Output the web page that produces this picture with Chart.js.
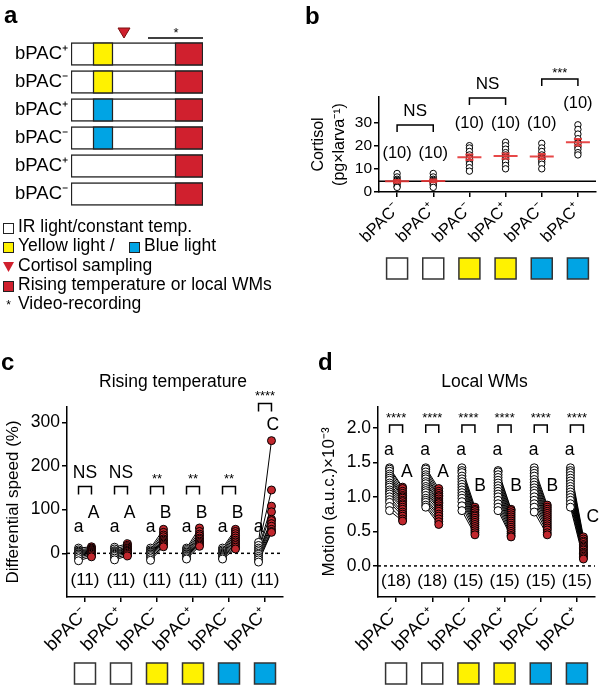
<!DOCTYPE html>
<html>
<head>
<meta charset="utf-8">
<script src="https://cdn.jsdelivr.net/npm/chart.js@4.4.1/dist/chart.umd.min.js"></script>
<style>
  body { margin: 0; background: #fff; width: 601px; height: 685px; position: relative; overflow: hidden; }
  canvas { position: absolute; }
</style>
</head>
<body>
<canvas id="chartA" width="300" height="320" style="left:0;top:0"></canvas>
<canvas id="chartB" width="301" height="300" style="left:300px;top:0"></canvas>
<canvas id="chartC" width="300" height="385" style="left:0;top:300px"></canvas>
<canvas id="chartD" width="301" height="385" style="left:300px;top:300px"></canvas>
<script>
const FONT = '"Liberation Sans", Arial, Helvetica, sans-serif';
const lightColor = { none: '#ffffff', yellow: '#fff200', blue: '#00a4e4' };
const STIM_RED = '#d0202e';
const DOT_RED = '#c1272d';
const MEAN_RED = 'rgba(228, 52, 52, 0.9)';

// ---- panel a: protocol ----
const protocolRows = ['bPAC⁺', 'bPAC⁻', 'bPAC⁺', 'bPAC⁻', 'bPAC⁺', 'bPAC⁻'];
const protocolLight = ['yellow', 'yellow', 'blue', 'blue', 'none', 'none'];
const protocolEnd = 6.6;
const lightWindow = [1.1, 2.1];
const stimWindow = [5.2, 6.6];
const samplingTime = 2.65;
const videoWindow = [3.85, 6.6];

// ---- groups shared by b, c, d ----
const groupLabels = ['bPAC⁻', 'bPAC⁺', 'bPAC⁻', 'bPAC⁺', 'bPAC⁻', 'bPAC⁺'];
const groupLight = ['none', 'none', 'yellow', 'yellow', 'blue', 'blue'];

// ---- panel b: cortisol (pg x larva^-1) ----
const cortisol = [
  [8, 6.5, 5.5, 5, 4.5, 4, 4, 3.5, 2.5, 2],
  [8, 6.5, 5.5, 5, 4.5, 4.5, 4, 3.5, 3, 2],
  [20, 19, 17.5, 16, 15, 14.5, 13, 12, 10.5, 9],
  [21.5, 20, 18.5, 17, 16, 15, 14, 13, 11.5, 10],
  [21, 19, 17.5, 16, 15, 14.5, 14, 13, 12, 10],
  [29, 27, 25, 23, 21.5, 21, 19.5, 18.5, 17, 16]
];
const cortisolMean = [4.6, 4.8, 15.0, 15.5, 15.3, 21.5];
const cortisolSem = [0.6, 0.6, 1.2, 1.1, 1.1, 1.4];
const cortisolN = [10, 10, 10, 10, 10, 10];
const cortisolStats = ['NS', 'NS', '***'];

// ---- panel c: differential speed (%) ----
const speedBefore = [
  [12, 8, 5, 3, 1, -1, -3, -5, -8, -12, -17],
  [14, 10, 6, 4, 2, 0, -2, -4, -7, -11, -15],
  [12, 8, 5, 3, 1, -1, -3, -5, -8, -12, -16],
  [12, 9, 6, 3, 1, -1, -3, -5, -7, -10, -13],
  [12, 8, 5, 2, 0, -2, -4, -6, -8, -10, -13],
  [25, 18, 12, 8, 4, 0, -3, -7, -11, -15, -20]
];
const speedAfter = [
  [15, 12, 10, 8, 6, 4, 2, 0, -2, -5, -8],
  [22, 18, 15, 12, 10, 7, 5, 3, 0, -3, -6],
  [55, 48, 42, 38, 33, 30, 27, 24, 21, 18, 15],
  [58, 50, 44, 40, 35, 32, 28, 25, 22, 19, 16],
  [55, 50, 45, 40, 35, 30, 26, 22, 18, 14, 10],
  [258, 145, 108, 95, 78, 75, 68, 62, 55, 50, 48]
];
const speedN = [11, 11, 11, 11, 11, 11];
const speedStats = ['NS', 'NS', '**', '**', '**', '****'];
const speedLetters = ['A', 'A', 'B', 'B', 'B', 'C'];

// ---- panel d: motion (a.u.c. x 10^-3) ----
const motionBefore = [
  [1.42, 1.4, 1.37, 1.33, 1.3, 1.27, 1.24, 1.2, 1.17, 1.14, 1.1, 1.07, 1.04, 1.0, 0.96, 0.92, 0.86, 0.8],
  [1.42, 1.4, 1.36, 1.32, 1.29, 1.26, 1.22, 1.19, 1.15, 1.12, 1.09, 1.06, 1.02, 0.98, 0.95, 0.92, 0.88, 0.85],
  [1.42, 1.38, 1.35, 1.3, 1.26, 1.22, 1.18, 1.14, 1.1, 1.06, 1.02, 0.98, 0.93, 0.87, 0.8],
  [1.38, 1.36, 1.32, 1.28, 1.24, 1.2, 1.16, 1.12, 1.08, 1.04, 1.0, 0.95, 0.9, 0.85, 0.8],
  [1.42, 1.38, 1.34, 1.3, 1.25, 1.21, 1.17, 1.13, 1.09, 1.05, 1.0, 0.95, 0.9, 0.85, 0.78],
  [1.42, 1.38, 1.35, 1.31, 1.27, 1.23, 1.19, 1.15, 1.11, 1.07, 1.03, 0.99, 0.95, 0.9, 0.85]
];
const motionAfter = [
  [1.14, 1.12, 1.08, 1.05, 1.02, 1.0, 0.98, 0.95, 0.93, 0.9, 0.88, 0.85, 0.82, 0.78, 0.75, 0.72, 0.68, 0.65],
  [1.12, 1.08, 1.05, 1.02, 1.0, 0.97, 0.94, 0.92, 0.9, 0.87, 0.84, 0.82, 0.79, 0.75, 0.72, 0.68, 0.64, 0.6],
  [0.85, 0.82, 0.8, 0.77, 0.74, 0.72, 0.69, 0.66, 0.63, 0.6, 0.57, 0.54, 0.51, 0.48, 0.45],
  [0.82, 0.8, 0.77, 0.74, 0.71, 0.68, 0.65, 0.62, 0.59, 0.56, 0.53, 0.5, 0.47, 0.44, 0.42],
  [0.88, 0.85, 0.82, 0.79, 0.76, 0.73, 0.7, 0.67, 0.64, 0.61, 0.58, 0.55, 0.52, 0.48, 0.45],
  [0.42, 0.39, 0.36, 0.34, 0.31, 0.29, 0.27, 0.25, 0.23, 0.2, 0.18, 0.16, 0.14, 0.12, 0.1]
];
const motionN = [18, 18, 15, 15, 15, 15];
const motionStats = ['****', '****', '****', '****', '****', '****'];
const motionLetters = ['A', 'A', 'B', 'B', 'B', 'C'];

Chart.defaults.color = '#000';
Chart.defaults.font.family = FONT;

// ---------- drawing helpers ----------
function text(ctx, str, x, y, size, opts = {}) {
  ctx.save();
  ctx.font = (opts.bold ? 'bold ' : '') + size + 'px ' + FONT;
  ctx.fillStyle = opts.color || '#000';
  ctx.textAlign = opts.align || 'center';
  ctx.textBaseline = opts.baseline || 'middle';
  ctx.fillText(str, x, y);
  ctx.restore();
}

function bracket(ctx, x1, x2, yTop, yLeg) {
  ctx.save();
  ctx.strokeStyle = '#000';
  ctx.lineWidth = 1.5;
  ctx.beginPath();
  ctx.moveTo(x1, yLeg);
  ctx.lineTo(x1, yTop);
  ctx.lineTo(x2, yTop);
  ctx.lineTo(x2, yLeg);
  ctx.stroke();
  ctx.restore();
}

function swatches(ctx, xScale, top, size) {
  ctx.save();
  groupLight.forEach((l, i) => {
    const cx = xScale.getPixelForValue(i);
    ctx.fillStyle = lightColor[l];
    ctx.fillRect(cx - size / 2, top, size, size);
    ctx.strokeStyle = '#333';
    ctx.lineWidth = 1.5;
    ctx.strokeRect(cx - size / 2, top, size, size);
  });
  ctx.restore();
}

function groupAxis(fontSize, height) {
  return {
    type: 'linear',
    min: -0.5,
    max: 5.5,
    afterBuildTicks: s => { s.ticks = groupLabels.map((_, i) => ({ value: i })); },
    afterFit: s => { s.height = height; },
    ticks: {
      callback: v => groupLabels[v],
      minRotation: 45, maxRotation: 45, autoSkip: false,
      font: { size: fontSize }, padding: 2
    },
    grid: { display: true, drawOnChartArea: false, drawTicks: true, tickLength: 5, color: '#000', lineWidth: 1.5 },
    border: { display: true, color: '#000', width: 1.5 }
  };
}

function valueAxis(min, max, tickValues, width, fmt, fontSize, title, titleSize, titlePad) {
  return {
    type: 'linear',
    min: min,
    max: max,
    afterBuildTicks: s => { s.ticks = tickValues.map(v => ({ value: v })); },
    afterFit: s => { s.width = width; },
    ticks: { callback: fmt, font: { size: fontSize }, padding: 2 },
    grid: { display: true, drawOnChartArea: false, drawTicks: true, tickLength: 5, color: '#000', lineWidth: 1.5 },
    border: { display: true, color: '#000', width: 1.5 },
    title: { display: true, text: title, font: { size: titleSize, lineHeight: 1.3 }, padding: { top: titlePad, bottom: 0 } }
  };
}

const baseOptions = {
  responsive: false,
  animation: false,
  devicePixelRatio: 1,
  plugins: { legend: { display: false }, tooltip: { enabled: false } }
};

// ---------- panel a ----------
const protocolPlugin = {
  id: 'protocolNotes',
  afterDraw(chart) {
    const { ctx, scales: { x } } = chart;
    text(ctx, 'a', 4, 16, 24, { bold: true, align: 'left' });
    // cortisol sampling marker
    const sx = x.getPixelForValue(samplingTime);
    ctx.save();
    ctx.fillStyle = STIM_RED;
    ctx.strokeStyle = '#7a1010';
    ctx.lineWidth = 1;
    ctx.beginPath();
    ctx.moveTo(sx - 6, 28); ctx.lineTo(sx + 6, 28); ctx.lineTo(sx, 38); ctx.closePath();
    ctx.fill(); ctx.stroke();
    // video recording line
    ctx.strokeStyle = '#000';
    ctx.lineWidth = 1.5;
    ctx.beginPath();
    ctx.moveTo(x.getPixelForValue(videoWindow[0]), 38);
    ctx.lineTo(x.getPixelForValue(videoWindow[1]), 38);
    ctx.stroke();
    ctx.restore();
    text(ctx, '*', x.getPixelForValue((videoWindow[0] + videoWindow[1]) / 2 + 0.03), 33, 13);

    // legend
    const lx = 18;
    const fs = 17.5;
    const rows = [227, 246, 266, 285, 304];
    const box = (bx, by, col) => {
      ctx.save();
      ctx.fillStyle = col; ctx.fillRect(bx, by - 5, 10, 10);
      ctx.strokeStyle = '#222'; ctx.lineWidth = 1; ctx.strokeRect(bx + 0.5, by - 4.5, 10, 10);
      ctx.restore();
    };
    box(3, rows[0] + 1, '#fff');
    text(ctx, 'IR light/constant temp.', lx, rows[0], fs, { align: 'left' });
    box(3, rows[1] + 1, lightColor.yellow);
    text(ctx, 'Yellow light /', lx, rows[1], fs, { align: 'left' });
    box(129, rows[1] + 1, lightColor.blue);
    text(ctx, 'Blue light', 144, rows[1], fs, { align: 'left' });
    ctx.save();
    ctx.fillStyle = STIM_RED;
    ctx.beginPath();
    ctx.moveTo(3, rows[2] - 4); ctx.lineTo(14, rows[2] - 4); ctx.lineTo(8.5, rows[2] + 6); ctx.closePath();
    ctx.fill();
    ctx.restore();
    text(ctx, 'Cortisol sampling', lx, rows[2], fs, { align: 'left' });
    box(3, rows[3] + 1, STIM_RED);
    text(ctx, 'Rising temperature or local WMs', lx, rows[3], fs, { align: 'left' });
    text(ctx, '*', 8.5, rows[4] + 2, 12);
    text(ctx, 'Video-recording', lx, rows[4], fs, { align: 'left' });
  }
};

new Chart(document.getElementById('chartA'), {
  type: 'bar',
  data: {
    labels: protocolRows,
    datasets: [
      {
        data: protocolLight.map(l => l === 'none' ? null : lightWindow),
        backgroundColor: protocolLight.map(l => lightColor[l]),
        borderColor: '#222', borderWidth: 1.5, borderSkipped: false,
        grouped: false, barThickness: 23
      },
      {
        data: protocolRows.map(() => stimWindow),
        backgroundColor: STIM_RED,
        borderColor: '#222', borderWidth: 1.5, borderSkipped: false,
        grouped: false, barThickness: 23
      },
      {
        data: protocolRows.map(() => [0, protocolEnd]),
        backgroundColor: '#fff',
        borderColor: '#222', borderWidth: 1.5, borderSkipped: false,
        grouped: false, barThickness: 23
      }
    ]
  },
  options: {
    ...baseOptions,
    indexAxis: 'y',
    layout: { padding: { top: 40, right: 97, bottom: 112, left: 0 } },
    scales: {
      x: { type: 'linear', min: 0, max: protocolEnd, display: false },
      y: {
        afterFit: s => { s.width = 71; },
        ticks: { font: { size: 18.5 }, padding: 3 },
        grid: { display: false, drawTicks: false },
        border: { display: false }
      }
    }
  },
  plugins: [protocolPlugin]
});

// ---------- panel b ----------
const cortisolPoints = [];
cortisol.forEach((grp, i) => grp.forEach(v => cortisolPoints.push({ x: i, y: v })));

const cortisolPlugin = {
  id: 'cortisolNotes',
  beforeDatasetsDraw(chart) {
    const { ctx, chartArea: ca, scales: { y } } = chart;
    const yy = y.getPixelForValue(cortisolMean[0]);
    ctx.save();
    ctx.strokeStyle = '#000'; ctx.lineWidth = 1.5;
    ctx.beginPath(); ctx.moveTo(ca.left, yy); ctx.lineTo(ca.right, yy); ctx.stroke();
    ctx.restore();
  },
  afterDraw(chart) {
    const { ctx, scales: { x, y } } = chart;
    text(ctx, 'b', 5, 17, 24, { bold: true, align: 'left' });
    ctx.save();
    ctx.strokeStyle = MEAN_RED;
    ctx.lineWidth = 2;
    cortisolMean.forEach((m, i) => {
      const cx = x.getPixelForValue(i);
      const ym = y.getPixelForValue(m);
      const y1 = y.getPixelForValue(m - cortisolSem[i]);
      const y2 = y.getPixelForValue(m + cortisolSem[i]);
      ctx.beginPath();
      ctx.moveTo(cx - 12, ym); ctx.lineTo(cx + 12, ym);
      ctx.moveTo(cx, y1); ctx.lineTo(cx, y2);
      ctx.moveTo(cx - 4, y1); ctx.lineTo(cx + 4, y1);
      ctx.moveTo(cx - 4, y2); ctx.lineTo(cx + 4, y2);
      ctx.stroke();
    });
    ctx.restore();
    const nPos = [16.5, 16.5, 29.5, 29.5, 29.5, 38];
    cortisolN.forEach((n, i) => text(ctx, '(' + n + ')', x.getPixelForValue(i), y.getPixelForValue(nPos[i]), 16.5));
    const brTop = [125, 98, 79];
    cortisolStats.forEach((s, k) => {
      const x1 = x.getPixelForValue(2 * k);
      const x2 = x.getPixelForValue(2 * k + 1);
      bracket(ctx, x1, x2, brTop[k], brTop[k] + 7);
      if (s === 'NS') text(ctx, s, (x1 + x2) / 2, brTop[k] - 14, 17);
      else text(ctx, s, (x1 + x2) / 2, brTop[k] - 6, 13);
    });
    swatches(ctx, x, 258, 21);
  }
};

new Chart(document.getElementById('chartB'), {
  type: 'scatter',
  data: {
    datasets: [{
      data: cortisolPoints,
      pointRadius: 3.2, pointBackgroundColor: '#fff', pointBorderColor: '#000', pointBorderWidth: 1
    }]
  },
  options: {
    ...baseOptions,
    layout: { padding: { top: 97, right: 4, bottom: 0, left: 0 } },
    scales: {
      x: groupAxis(16.5, 108),
      y: valueAxis(0, 41, [0, 10, 20, 30], 79, v => String(v), 15.5,
        ['Cortisol', '(pg×larva⁻¹)'], 16, 8)
    }
  },
  plugins: [cortisolPlugin]
});

// ---------- panels c and d ----------
const OFF = 0.18;
function pairedDatasets(before, after) {
  const white = [], red = [], links = [];
  before.forEach((grp, i) => {
    grp.forEach((v, j) => {
      const w = after[i][j];
      white.push({ x: i - OFF, y: v });
      red.push({ x: i + OFF, y: w });
      links.push({ x: i - OFF, y: v }, { x: i + OFF, y: w }, { x: i, y: null });
    });
  });
  return [
    { data: red, pointRadius: 4, pointBackgroundColor: DOT_RED, pointBorderColor: '#000', pointBorderWidth: 1 },
    { data: white, pointRadius: 4, pointBackgroundColor: '#fff', pointBorderColor: '#000', pointBorderWidth: 1 },
    { data: links, showLine: true, spanGaps: false, borderColor: '#000', borderWidth: 1, pointRadius: 0 }
  ];
}

function pairedPlugin(cfg) {
  return {
    id: 'pairedNotes',
    beforeDatasetsDraw(chart) {
      const { ctx, chartArea: ca, scales: { y } } = chart;
      const y0 = y.getPixelForValue(0);
      ctx.save();
      ctx.strokeStyle = '#000'; ctx.lineWidth = 1.5; ctx.setLineDash([3, 3]);
      ctx.beginPath(); ctx.moveTo(ca.left, y0); ctx.lineTo(ca.right, y0); ctx.stroke();
      ctx.restore();
    },
    afterDraw(chart) {
      const { ctx, chartArea: ca, scales: { x, y } } = chart;
      text(ctx, cfg.letter, cfg.letterX, 63, 24, { bold: true, align: 'left' });
      text(ctx, cfg.title, (ca.left + ca.right) / 2 - 2, 82, 17.5);
      cfg.n.forEach((n, i) => text(ctx, '(' + n + ')', x.getPixelForValue(i), y.getPixelForValue(cfg.nY), 17));
      cfg.stats.forEach((s, i) => {
        const x1 = x.getPixelForValue(i - OFF);
        const x2 = x.getPixelForValue(i + OFF);
        const top = y.getPixelForValue(cfg.brTop[i]);
        bracket(ctx, x1, x2, top, top + 8);
        if (s === 'NS') text(ctx, s, (x1 + x2) / 2, top - 13, 17.5);
        else text(ctx, s, (x1 + x2) / 2, top - 7, 13);
        text(ctx, 'a', x.getPixelForValue(i - cfg.aOff), y.getPixelForValue(cfg.aY), 17.5);
        text(ctx, cfg.letters[i], x.getPixelForValue(i + cfg.upOff[i]), y.getPixelForValue(cfg.upY[i]), 17.5);
      });
      swatches(ctx, x, 363, 21);
    }
  };
}

new Chart(document.getElementById('chartC'), {
  type: 'scatter',
  data: { datasets: pairedDatasets(speedBefore, speedAfter) },
  options: {
    ...baseOptions,
    layout: { padding: { top: 107, right: 17, bottom: 0, left: 0 } },
    scales: {
      x: groupAxis(18, 88),
      y: valueAxis(-100, 335, [0, 100, 200, 300], 67, v => String(v), 17.5,
        'Differential speed (%)', 17, 2)
    }
  },
  plugins: [pairedPlugin({
    letter: 'c', letterX: 1, title: 'Rising temperature',
    n: speedN, nY: -62, stats: speedStats, letters: speedLetters,
    brTop: [153, 153, 153, 153, 153, 343],
    aOff: 0.18, aY: 60,
    upOff: [0.24, 0.24, 0.24, 0.24, 0.24, 0.22], upY: [92, 92, 92, 92, 92, 293]
  })]
});

new Chart(document.getElementById('chartD'), {
  type: 'scatter',
  data: { datasets: pairedDatasets(motionBefore, motionAfter) },
  options: {
    ...baseOptions,
    layout: { padding: { top: 107, right: 6, bottom: 0, left: 0 } },
    scales: {
      x: groupAxis(18, 88),
      y: valueAxis(-0.45, 2.3, [0, 0.5, 1, 1.5, 2], 78, v => v.toFixed(1), 17.5,
        'Motion (a.u.c.)×10⁻³', 17, 18)
    }
  },
  plugins: [pairedPlugin({
    letter: 'd', letterX: 18, title: 'Local WMs',
    n: motionN, nY: -0.22, stats: motionStats, letters: motionLetters,
    brTop: [2.04, 2.04, 2.04, 2.04, 2.04, 2.04],
    aOff: 0.2, aY: 1.68,
    upOff: [0.3, 0.3, 0.32, 0.32, 0.32, 0.44], upY: [1.36, 1.36, 1.15, 1.15, 1.15, 0.7]
  })]
});
</script>
</body>
</html>
